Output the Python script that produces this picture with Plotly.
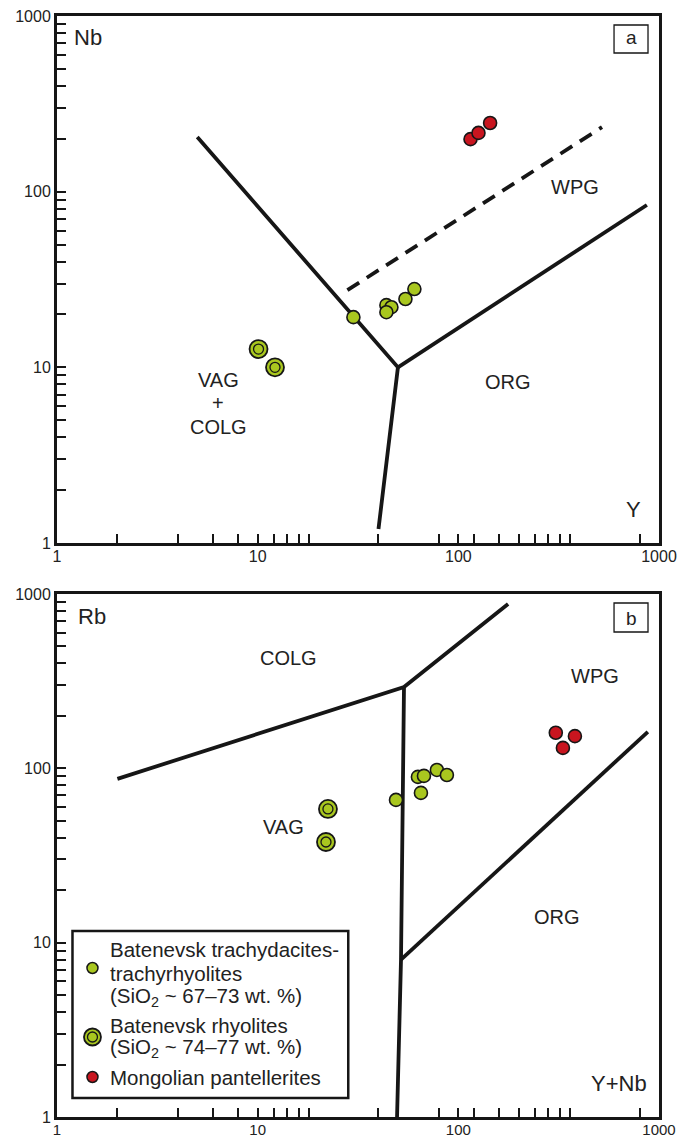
import plotly.graph_objects as go
from plotly.subplots import make_subplots

# ---------------- data: panel a (Nb vs Y) ----------------
a_tr_y = [30.0, 43.8, 46.4, 43.8, 54.5, 60.4]
a_tr_nb = [19.3, 22.6, 22.0, 20.6, 24.5, 27.9]
a_rh_y = [10.1, 12.2]
a_rh_nb = [12.7, 10.0]
a_pa_y = [115, 126, 144]
a_pa_nb = [199, 216, 246]

# field boundaries panel a
a_b1_x = [5.0, 50, 40]
a_b1_y = [205, 10, 1.2]
a_b2_x = [50, 870]
a_b2_y = [10, 84]
a_dash_x = [28, 520]
a_dash_y = [27.5, 233]

# ---------------- data: panel b (Rb vs Y+Nb) ----------------
b_tr_x = [48.9, 62.9, 67.4, 65.1, 78.2, 87.7]
b_tr_rb = [65.9, 89.3, 90.5, 72.3, 97.9, 91.6]
b_rh_x = [22.4, 21.9]
b_rh_rb = [58.5, 37.8]
b_pa_x = [306, 381, 332]
b_pa_rb = [160, 153, 131]

b_b1_x = [2.0, 53.6, 177]
b_b1_y = [87, 293, 877]
b_b2_x = [53.6, 51.8, 49.5]
b_b2_y = [293, 8.0, 1.0]
b_b3_x = [51.8, 880]
b_b3_y = [8.0, 162]

tick_vals = [1, 10, 100, 1000]
tick_text = ["1", "10", "100", "1000"]
x_minor = [2, 4, 6, 8, 12, 14, 16, 18, 40, 80, 120, 160, 200, 240, 280, 320, 360, 800]
y_minor = [m * d for d in (1, 10, 100) for m in range(2, 10)]

legend_lines = [
    "Batenevsk trachydacites-",
    "trachyrhyolites",
    "(SiO<sub>2</sub> ~ 67–73 wt. %)",
    "Batenevsk rhyolites",
    "(SiO<sub>2</sub> ~ 74–77 wt. %)",
    "Mongolian pantellerites",
]

GREEN = "#a9c71f"
RED = "#c8151f"
DARK = "#161616"
FONT = "Liberation Sans, Arial, sans-serif"

W, H = 694, 1140
ML, MR, MT, MB = 56.5, 35, 16, 23
PW = W - ML - MR
PH = H - MT - MB


def px(x):
    return (x - ML) / PW


def py(y):
    return (H - MB - y) / PH


fig = make_subplots(rows=2, cols=1, vertical_spacing=0.0463)
fig.update_layout(
    template="none",
    yaxis=dict(domain=[(H - MB - 543) / PH, 1.0]),
    yaxis2=dict(domain=[0.0, (H - MB - 594) / PH]),
)

line_style = dict(color=DARK, width=3.8)


def add_lines(r, xs, ys, dash=None):
    st = dict(line_style)
    if dash:
        st["dash"] = dash
    fig.add_trace(go.Scatter(x=xs, y=ys, mode="lines", line=st, showlegend=False,
                             hoverinfo="skip"), row=r, col=1)


add_lines(1, a_b1_x, a_b1_y)
add_lines(1, a_b2_x, a_b2_y)
add_lines(1, a_dash_x, a_dash_y, dash="14px,9px")
add_lines(2, b_b1_x, b_b1_y)
add_lines(2, b_b2_x, b_b2_y)
add_lines(2, b_b3_x, b_b3_y)


def add_points(r, xs, ys, color, size, lw=1.6):
    fig.add_trace(go.Scatter(x=xs, y=ys, mode="markers",
                             marker=dict(color=color, size=size,
                                         line=dict(color=DARK, width=lw)),
                             showlegend=False), row=r, col=1)


for r, (tx, ty, rx, ry, px_, py_) in enumerate([
        (a_tr_y, a_tr_nb, a_rh_y, a_rh_nb, a_pa_y, a_pa_nb),
        (b_tr_x, b_tr_rb, b_rh_x, b_rh_rb, b_pa_x, b_pa_rb)], start=1):
    add_points(r, tx, ty, GREEN, 13)
    add_points(r, px_, py_, RED, 13)
    add_points(r, rx, ry, GREEN, 18, 1.8)
    add_points(r, rx, ry, GREEN, 10, 1.3)

axis_common = dict(
    type="log", range=[0, 3], showgrid=False, zeroline=False, automargin=False,
    showline=True, linewidth=3, linecolor=DARK, mirror=True,
    ticks="inside", ticklen=9, tickwidth=2, tickcolor=DARK,
    tickmode="array", tickvals=tick_vals, ticktext=tick_text,
    tickfont=dict(family=FONT, size=16, color="#222"),
)
for i in (1, 2):
    fig.update_xaxes(**axis_common, ticklabelstandoff=-3,
                     minor=dict(tickmode="array", tickvals=x_minor,
                                ticks="inside", ticklen=9, tickwidth=2,
                                tickcolor=DARK, showgrid=False),
                     row=i, col=1)
    fig.update_yaxes(**axis_common, minor=dict(tickmode="array", tickvals=y_minor,
                                               ticks="inside", ticklen=9, tickwidth=2,
                                               tickcolor=DARK, showgrid=False),
                     row=i, col=1)
fig.update_xaxes(tickfont=dict(size=15), row=2, col=1)

annotations = []


def label(text, x, y, size=20, xanchor="center", align="center"):
    annotations.append(dict(text=text, x=px(x), y=py(y), xref="paper", yref="paper",
                            showarrow=False, xanchor=xanchor, yanchor="middle",
                            align=align,
                            font=dict(family=FONT, size=size, color="#222")))


# panel a labels
label("Nb", 72, 38, 22, xanchor="left")
label("WPG", 575, 187)
label("VAG", 218, 380)
label("+", 218, 403)
label("COLG", 218, 427)
label("ORG", 508, 382)
label("Y", 633, 510, 22)
label("a", 631, 38, 19)
# panel b labels
label("Rb", 76, 616, 22, xanchor="left")
label("COLG", 288, 658)
label("VAG", 283, 827)
label("WPG", 595, 676)
label("ORG", 557, 917)
label("Y+Nb", 649, 1083, 22, xanchor="right")
label("b", 631, 618, 19)

shapes = []
for (x0, y0, x1, y1) in [(614, 25, 648, 53), (614, 603, 648, 632)]:
    shapes.append(dict(type="rect", xref="paper", yref="paper",
                       x0=px(x0), x1=px(x1), y0=py(y0), y1=py(y1),
                       line=dict(color=DARK, width=1.3), fillcolor="white"))

# legend box
shapes.append(dict(type="rect", xref="paper", yref="paper",
                   x0=px(72), x1=px(348), y0=py(931), y1=py(1098),
                   line=dict(color=DARK, width=2.5), fillcolor="white"))


def circ(cx, cy, d, color, lw):
    shapes.append(dict(type="circle", xref="paper", yref="paper",
                       xsizemode="pixel", ysizemode="pixel",
                       xanchor=px(cx), yanchor=py(cy),
                       x0=-d / 2, x1=d / 2, y0=-d / 2, y1=d / 2,
                       fillcolor=color, line=dict(color=DARK, width=lw)))


circ(92, 968, 11, GREEN, 1.5)
circ(92, 1037, 17, GREEN, 1.8)
circ(92, 1037, 10, GREEN, 1.3)
circ(92, 1077, 11, RED, 1.5)

for txt, yy in zip(legend_lines, [949, 973, 997, 1025, 1048, 1077]):
    label(txt, 108, yy, 20.5, xanchor="left", align="left")

fig.update_layout(
    width=W, height=H,
    margin=dict(l=ML, r=MR, t=MT, b=MB),
    paper_bgcolor="white", plot_bgcolor="white",
    showlegend=False,
    annotations=annotations, shapes=shapes,
    font=dict(family=FONT),
)

fig.write_html(
    "out.html",
    config={"displayModeBar": False},
    post_script="document.body.style.margin='0';document.body.style.padding='0';"
                "document.body.style.overflow='hidden';",
)
